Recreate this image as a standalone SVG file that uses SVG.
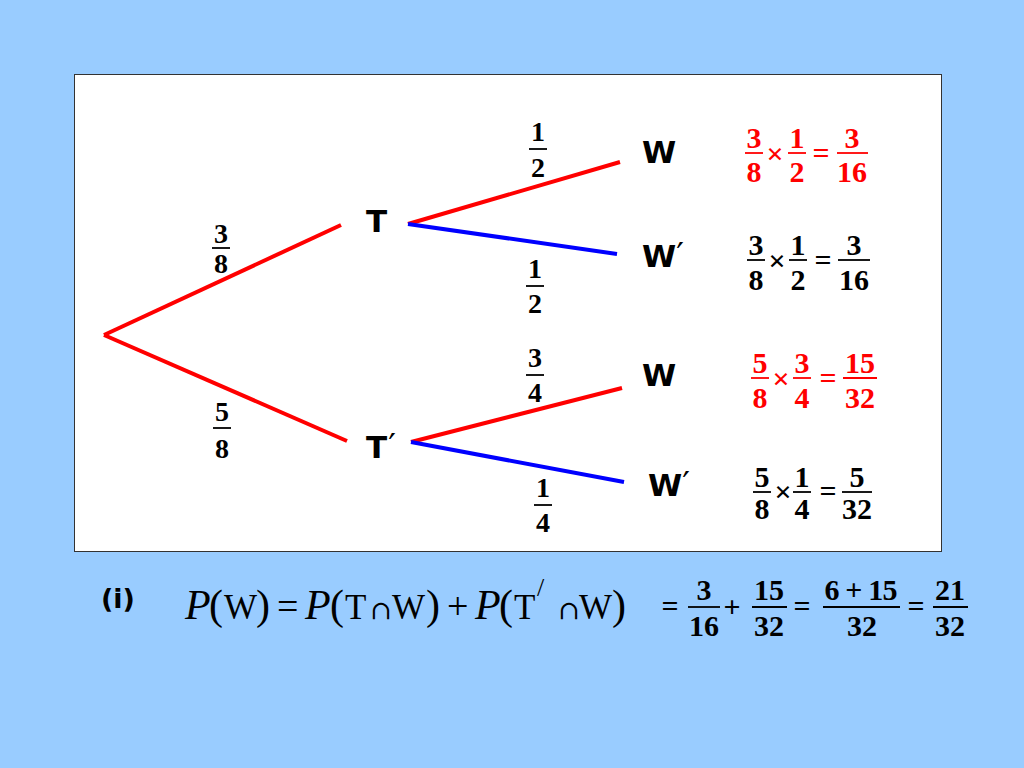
<svg xmlns="http://www.w3.org/2000/svg" width="1024" height="768" viewBox="0 0 1024 768">
<style>
.fr{font-family:"Liberation Serif","Times New Roman",serif;font-weight:bold;font-size:28px;text-anchor:middle;fill:#000}
.cr{font-family:"Liberation Serif","Times New Roman",serif;font-weight:bold;font-size:30px;text-anchor:middle}
.red{fill:#FF0000}
.blk{fill:#000}
.lbl{font-family:"DejaVu Sans","Liberation Sans",sans-serif;font-weight:bold;font-size:31px;fill:#000}
.pr{font-family:"DejaVu Sans",sans-serif;font-weight:normal;font-size:34px}
.eq{font-family:"Liberation Serif","Times New Roman",serif;font-size:35px;fill:#000}
.it{font-style:italic;font-size:42px}
.pa{font-size:42px}
.op{font-size:38px}
.cap{font-family:"DejaVu Serif",serif;font-size:26px}
.r{stroke:#FF0000;stroke-width:4;fill:none}
.b{stroke:#0000FF;stroke-width:4;fill:none}
.bar{stroke-width:1.8}
.bk{stroke:#000}
.rd{stroke:#FF0000}
</style>
<rect x="0" y="0" width="1024" height="768" fill="#99CCFF"/>
<rect x="74.5" y="74.5" width="867" height="477" fill="#FFFFFF" stroke="#333333" stroke-width="1"/>

<g id="connectors">
<line class="r" x1="104" y1="335" x2="341" y2="225"/>
<line class="r" x1="104" y1="335" x2="347" y2="441"/>
<line class="r" x1="408" y1="224" x2="620" y2="162"/>
<line class="b" x1="408" y1="224" x2="617" y2="254"/>
<line class="r" x1="411" y1="442" x2="622" y2="388"/>
<line class="b" x1="411" y1="442" x2="624" y2="482"/>
</g>

<g id="edge-labels">
<text class="fr" x="221" y="243">3</text><line class="bar bk" x1="212" y1="248" x2="230" y2="248"/><text class="fr" x="221" y="273">8</text>
<text class="fr" x="222" y="421">5</text><line class="bar bk" x1="213" y1="428" x2="231" y2="428"/><text class="fr" x="222" y="458">8</text>
<text class="fr" x="538" y="141">1</text><line class="bar bk" x1="529" y1="149" x2="547" y2="149"/><text class="fr" x="538" y="177">2</text>
<text class="fr" x="535" y="278">1</text><line class="bar bk" x1="526" y1="286" x2="544" y2="286"/><text class="fr" x="535" y="313">2</text>
<text class="fr" x="535" y="367">3</text><line class="bar bk" x1="526" y1="375" x2="544" y2="375"/><text class="fr" x="535" y="402">4</text>
<text class="fr" x="543" y="497">1</text><line class="bar bk" x1="534" y1="505" x2="552" y2="505"/><text class="fr" x="543" y="532">4</text>
</g>

<g id="node-T"><text class="lbl" x="366" y="232">T</text></g>
<g id="node-Tp"><text class="lbl" x="366" y="458">T<tspan class="pr" dx="1">′</tspan></text></g>
<g id="node-W1"><text class="lbl" x="642" y="163">W</text></g>
<g id="node-Wp1"><text class="lbl" x="642" y="267">W<tspan class="pr">′</tspan></text></g>
<g id="node-W2"><text class="lbl" x="642" y="386">W</text></g>
<g id="node-Wp2"><text class="lbl" x="648" y="496">W<tspan class="pr">′</tspan></text></g>

<g id="calc1">
<text class="cr red" x="754" y="148">3</text><line class="bar rd" x1="745" y1="153" x2="763" y2="153"/><text class="cr red" x="754" y="182">8</text>
<text class="cr red" x="775" y="164">×</text>
<text class="cr red" x="797" y="148">1</text><line class="bar rd" x1="788" y1="153" x2="806" y2="153"/><text class="cr red" x="797" y="182">2</text>
<text class="cr red" x="821" y="163">=</text>
<text class="cr red" x="852" y="148">3</text><line class="bar rd" x1="837" y1="153" x2="868" y2="153"/><text class="cr red" x="852" y="182">16</text>
</g>
<g id="calc2">
<text class="cr blk" x="756" y="255">3</text><line class="bar bk" x1="747" y1="260" x2="765" y2="260"/><text class="cr blk" x="756" y="290">8</text>
<text class="cr blk" x="777" y="271">×</text>
<text class="cr blk" x="798" y="255">1</text><line class="bar bk" x1="789" y1="260" x2="807" y2="260"/><text class="cr blk" x="798" y="290">2</text>
<text class="cr blk" x="823" y="270">=</text>
<text class="cr blk" x="854" y="255">3</text><line class="bar bk" x1="838" y1="260" x2="870" y2="260"/><text class="cr blk" x="854" y="290">16</text>
</g>
<g id="calc3">
<text class="cr red" x="760" y="373">5</text><line class="bar rd" x1="751" y1="378" x2="769" y2="378"/><text class="cr red" x="760" y="408">8</text>
<text class="cr red" x="781" y="389">×</text>
<text class="cr red" x="802" y="373">3</text><line class="bar rd" x1="793" y1="378" x2="811" y2="378"/><text class="cr red" x="802" y="408">4</text>
<text class="cr red" x="828" y="388">=</text>
<text class="cr red" x="860" y="373">15</text><line class="bar rd" x1="843" y1="378" x2="877" y2="378"/><text class="cr red" x="860" y="408">32</text>
</g>
<g id="calc4">
<text class="cr blk" x="762" y="487">5</text><line class="bar bk" x1="753" y1="492" x2="771" y2="492"/><text class="cr blk" x="762" y="519">8</text>
<text class="cr blk" x="783" y="502">×</text>
<text class="cr blk" x="802" y="487">1</text><line class="bar bk" x1="793" y1="492" x2="811" y2="492"/><text class="cr blk" x="802" y="519">4</text>
<text class="cr blk" x="828" y="501">=</text>
<text class="cr blk" x="857" y="487">5</text><line class="bar bk" x1="842" y1="492" x2="872" y2="492"/><text class="cr blk" x="857" y="519">32</text>
</g>

<g id="formula">
<text x="101" y="608" style="font-family:'DejaVu Sans','Liberation Sans',sans-serif;font-weight:bold;font-size:27px;fill:#000">(i)</text>
<text class="eq" y="619"><tspan x="185" class="it">P</tspan><tspan x="209" class="pa">(</tspan><tspan x="224">W</tspan><tspan x="256" class="pa">)</tspan><tspan x="277" class="op">=</tspan><tspan x="305" class="it">P</tspan><tspan x="330" class="pa">(</tspan><tspan x="345">T</tspan><tspan x="370" class="cap">∩</tspan><tspan x="392">W</tspan><tspan x="426" class="pa">)</tspan><tspan x="447" class="op">+</tspan><tspan x="475" class="it">P</tspan><tspan x="499" class="pa">(</tspan><tspan x="514">T</tspan><tspan x="537" y="596" font-size="26">/</tspan><tspan x="558" y="619" class="cap">∩</tspan><tspan x="579">W</tspan><tspan x="612" class="pa">)</tspan></text>
</g>

<g id="result">
<text class="cr blk" x="670" y="616">=</text>
<text class="cr blk" x="704" y="600">3</text><line class="bar bk" x1="688" y1="607" x2="720" y2="607"/><text class="cr blk" x="704" y="636">16</text>
<text class="cr blk" x="732" y="617">+</text>
<text class="cr blk" x="769" y="600">15</text><line class="bar bk" x1="752" y1="607" x2="787" y2="607"/><text class="cr blk" x="769" y="636">32</text>
<text class="cr blk" x="802" y="616">=</text>
<text class="cr blk" x="861" y="600" textLength="73" lengthAdjust="spacing">6 + 15</text><line class="bar bk" x1="823" y1="607" x2="900" y2="607"/><text class="cr blk" x="862" y="636">32</text>
<text class="cr blk" x="916" y="616">=</text>
<text class="cr blk" x="950" y="600">21</text><line class="bar bk" x1="933" y1="607" x2="968" y2="607"/><text class="cr blk" x="950" y="636">32</text>
</g>
</svg>
